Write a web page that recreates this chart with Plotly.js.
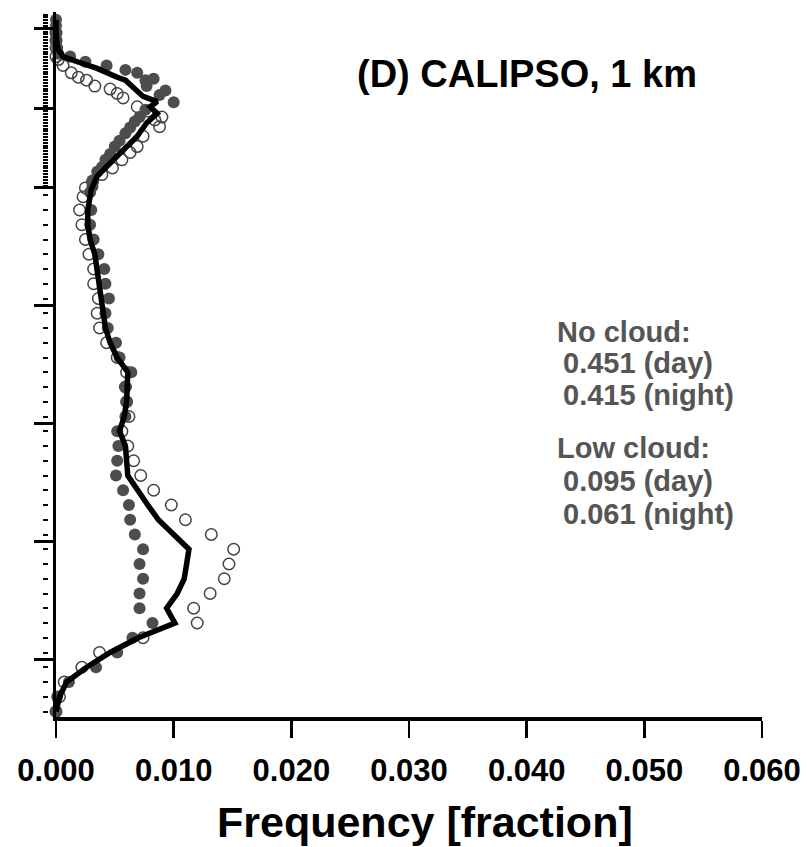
<!DOCTYPE html>
<html>
<head>
<meta charset="utf-8">
<script src="https://cdn.plot.ly/plotly-3.0.1.min.js"></script>
<style>html,body{margin:0;padding:0;background:#fff;}#chart{width:807px;height:847px;}</style>
</head>
<body>
<div id="chart"></div>
<script>
// ---- DATA (y = vertical level, no labels shown on the reference axis) ----
const lowLevels = [0,1,2,3,4,5,6,7,8,9,10,11,12,13,14,15,16,17,18,19,20,21,22,23,24,25,26,27,28,29,30,31,32,33,34];
const dayLow   = [0.0000,0.0001,0.0011,0.0034,0.0052,0.0065,0.0082,0.0071,0.0071,0.0074,0.0071,0.0074,0.0067,0.0063,0.0062,0.0057,0.0051,0.0052,0.0053,0.0052,0.0059,0.0060,0.0059,0.0064,0.0054,0.0051,0.0044,0.0042,0.0045,0.0042,0.0041,0.0036,0.0032,0.0029,0.0030];
const nightLow = [0.0000,0.0003,0.0007,0.0022,0.0037,0.0074,0.0120,0.0117,0.0131,0.0143,0.0147,0.0151,0.0132,0.0110,0.0098,0.0083,0.0072,0.0066,0.0061,0.0056,0.0062,0.0060,0.0059,0.0060,0.0052,0.0043,0.0037,0.0035,0.0036,0.0032,0.0032,0.0028,0.0025,0.0022,0.0020];
const meanLow  = [0.0000,0.0003,0.0009,0.0026,0.0046,0.0070,0.0101,0.0094,0.0103,0.0109,0.0111,0.0113,0.0100,0.0087,0.0078,0.0070,0.0061,0.0060,0.0059,0.0054,0.0058,0.0060,0.0060,0.0061,0.0052,0.0046,0.0042,0.0040,0.0039,0.0037,0.0035,0.0033,0.0029,0.0027,0.0027];

const dayUpLevels = [35.2,35.6,36.0,36.6,36.9,37.4,37.8,38.3,38.7,39.2,39.6,40.0,40.3,40.8,41.3,41.8,42.1,42.4,42.8,42.9,43.3,43.5,43.8,44.05,44.4,44.6,45.0,45.5,46.0,46.5,46.9];
const dayUp       = [0.0029,0.0031,0.0031,0.0035,0.0039,0.0042,0.0046,0.0050,0.0054,0.0059,0.0063,0.0067,0.0071,0.0076,0.0100,0.0088,0.0093,0.0077,0.0076,0.0083,0.0069,0.0059,0.0043,0.0025,0.0012,0.0002,0.0001,0.0000,0.0000,0.0000,0.0000];

const nightUpLevels = [34.9,35.5,35.9,36.4,36.85,37.4,37.9,38.3,39.0,39.65,40.1,40.3,40.7,41.0,41.6,41.9,42.2,42.4,42.8,43.0,43.3,43.8,44.2,44.4,45.0,45.5,46.0];
const nightUp       = [0.0023,0.0025,0.0031,0.0039,0.0048,0.0056,0.0063,0.0069,0.0074,0.0088,0.0084,0.0090,0.0078,0.0069,0.0057,0.0052,0.0046,0.0033,0.0026,0.0019,0.0013,0.0006,0.0002,0.0000,0.0000,0.0000,0.0000];

const meanUpLevels = [35.4,36.3,37.2,38.1,39.0,39.9,40.55,41.0,41.35,41.7,42.25,42.8,43.0,43.6,44.0,44.4,44.85,45.2,46.2,46.9];
const meanUp       = [0.0030,0.0035,0.0046,0.0057,0.0069,0.0077,0.0086,0.0080,0.0086,0.0074,0.0066,0.0059,0.0052,0.0035,0.0020,0.0006,0.0002,0.0001,0.0000,0.0000];

const xTickVals = [0, 0.01, 0.02, 0.03, 0.04, 0.05, 0.06];
const majorLevels = [3.5, 11.5, 19.5, 27.5, 35.5, 40.9, 46.3];

const titleText = "(D) CALIPSO, 1 km";
const xTitle = "Frequency [fraction]";
const noteLines = ["No cloud:", "0.451 (day)", "0.415 (night)", "Low cloud:", "0.095 (day)", "0.061 (night)"];

// ---- LAYOUT HELPERS ----
const W = 807, H = 847;
const M = {l: 20, r: 45, t: 12, b: 130};
const plotW = W - M.l - M.r, plotH = H - M.t - M.b;
const pxX = p => (p - M.l) / plotW;
const pxY = p => 1 - (p - M.t) / plotH;
const lev = p => (711.5 - p) / 14.75;   // pixel row -> level

// minor tick positions on the level axis
const minorTicks = lowLevels.slice();
minorTicks.push(35);
for (let p = 185.5; p > 13; p -= 2.85) minorTicks.push(lev(p));

const font = 'Liberation Sans, Arial, Helvetica, sans-serif';

const traces = [
  {x: nightLow.concat(nightUp), y: lowLevels.concat(nightUpLevels), type: 'scatter', mode: 'markers',
   marker: {symbol: 'circle-open', size: 11.5, color: '#444444', line: {width: 1.5, color: '#444444'}},
   cliponaxis: false, showlegend: false, hoverinfo: 'skip'},
  {x: dayLow.concat(dayUp), y: lowLevels.concat(dayUpLevels), type: 'scatter', mode: 'markers',
   marker: {symbol: 'circle', size: 12, color: '#4d4d4d', line: {width: 0}},
   cliponaxis: false, showlegend: false, hoverinfo: 'skip'},
  {x: meanLow.concat(meanUp), y: lowLevels.concat(meanUpLevels), type: 'scatter', mode: 'lines',
   line: {color: '#000', width: 5.5}, cliponaxis: false, showlegend: false, hoverinfo: 'skip'},
  {x: [], y: [], yaxis: 'y2', type: 'scatter', mode: 'markers', showlegend: false, hoverinfo: 'skip'}
];

const yRange = [lev(717), lev(12)];

const ann = [];
ann.push({text: '<b>' + titleText + '</b>', xref: 'paper', yref: 'paper', x: pxX(527), y: pxY(74),
  xanchor: 'center', yanchor: 'middle', showarrow: false, font: {family: font, size: 38, color: '#000'}});
ann.push({text: '<b>' + xTitle + '</b>', xref: 'paper', yref: 'paper', x: pxX(424.5), y: pxY(822),
  xanchor: 'center', yanchor: 'middle', showarrow: false, font: {family: font, size: 43, color: '#000'}});
const noteX = [555, 561, 561, 555, 561, 561];
const noteY = [332, 363, 395, 448, 481, 514];
noteLines.forEach((t, i) => {
  ann.push({text: '<b>' + t + '</b>', xref: 'paper', yref: 'paper', x: pxX(noteX[i]), y: pxY(noteY[i]),
    xanchor: 'left', yanchor: 'middle', showarrow: false, font: {family: font, size: 29, color: '#555555'}});
});

const layout = {
  width: W, height: H,
  margin: M,
  paper_bgcolor: '#fff', plot_bgcolor: '#fff',
  showlegend: false,
  xaxis: {
    domain: [pxX(56), 1], range: [0, 0.06], autorange: false,
    showline: true, linecolor: '#000', linewidth: 3.5, mirror: false,
    ticks: 'outside', ticklen: 17, tickwidth: 2.5, tickcolor: '#000',
    tickmode: 'array', tickvals: xTickVals, tickformat: '.3f', ticklabelstandoff: 6,
    tickfont: {family: font, size: 31, color: '#000', weight: 'bold'},
    showgrid: false, zeroline: false, anchor: 'y'
  },
  yaxis: {
    range: yRange, autorange: false, anchor: 'x',
    showline: true, linecolor: '#000', linewidth: 3,
    ticks: 'outside', ticklen: 19, tickwidth: 3, tickcolor: '#000',
    tickmode: 'array', tickvals: majorLevels, showticklabels: false,
    showgrid: false, zeroline: false
  },
  yaxis2: {
    range: yRange, autorange: false, overlaying: 'y', anchor: 'free', position: pxX(48), side: 'left',
    showline: false, ticks: 'outside', ticklen: 5, tickwidth: 2, tickcolor: '#000',
    tickmode: 'array', tickvals: minorTicks, showticklabels: false,
    showgrid: false, zeroline: false
  },
  annotations: ann
};

Plotly.newPlot('chart', traces, layout, {staticPlot: true, displayModeBar: false});
</script>
</body>
</html>
